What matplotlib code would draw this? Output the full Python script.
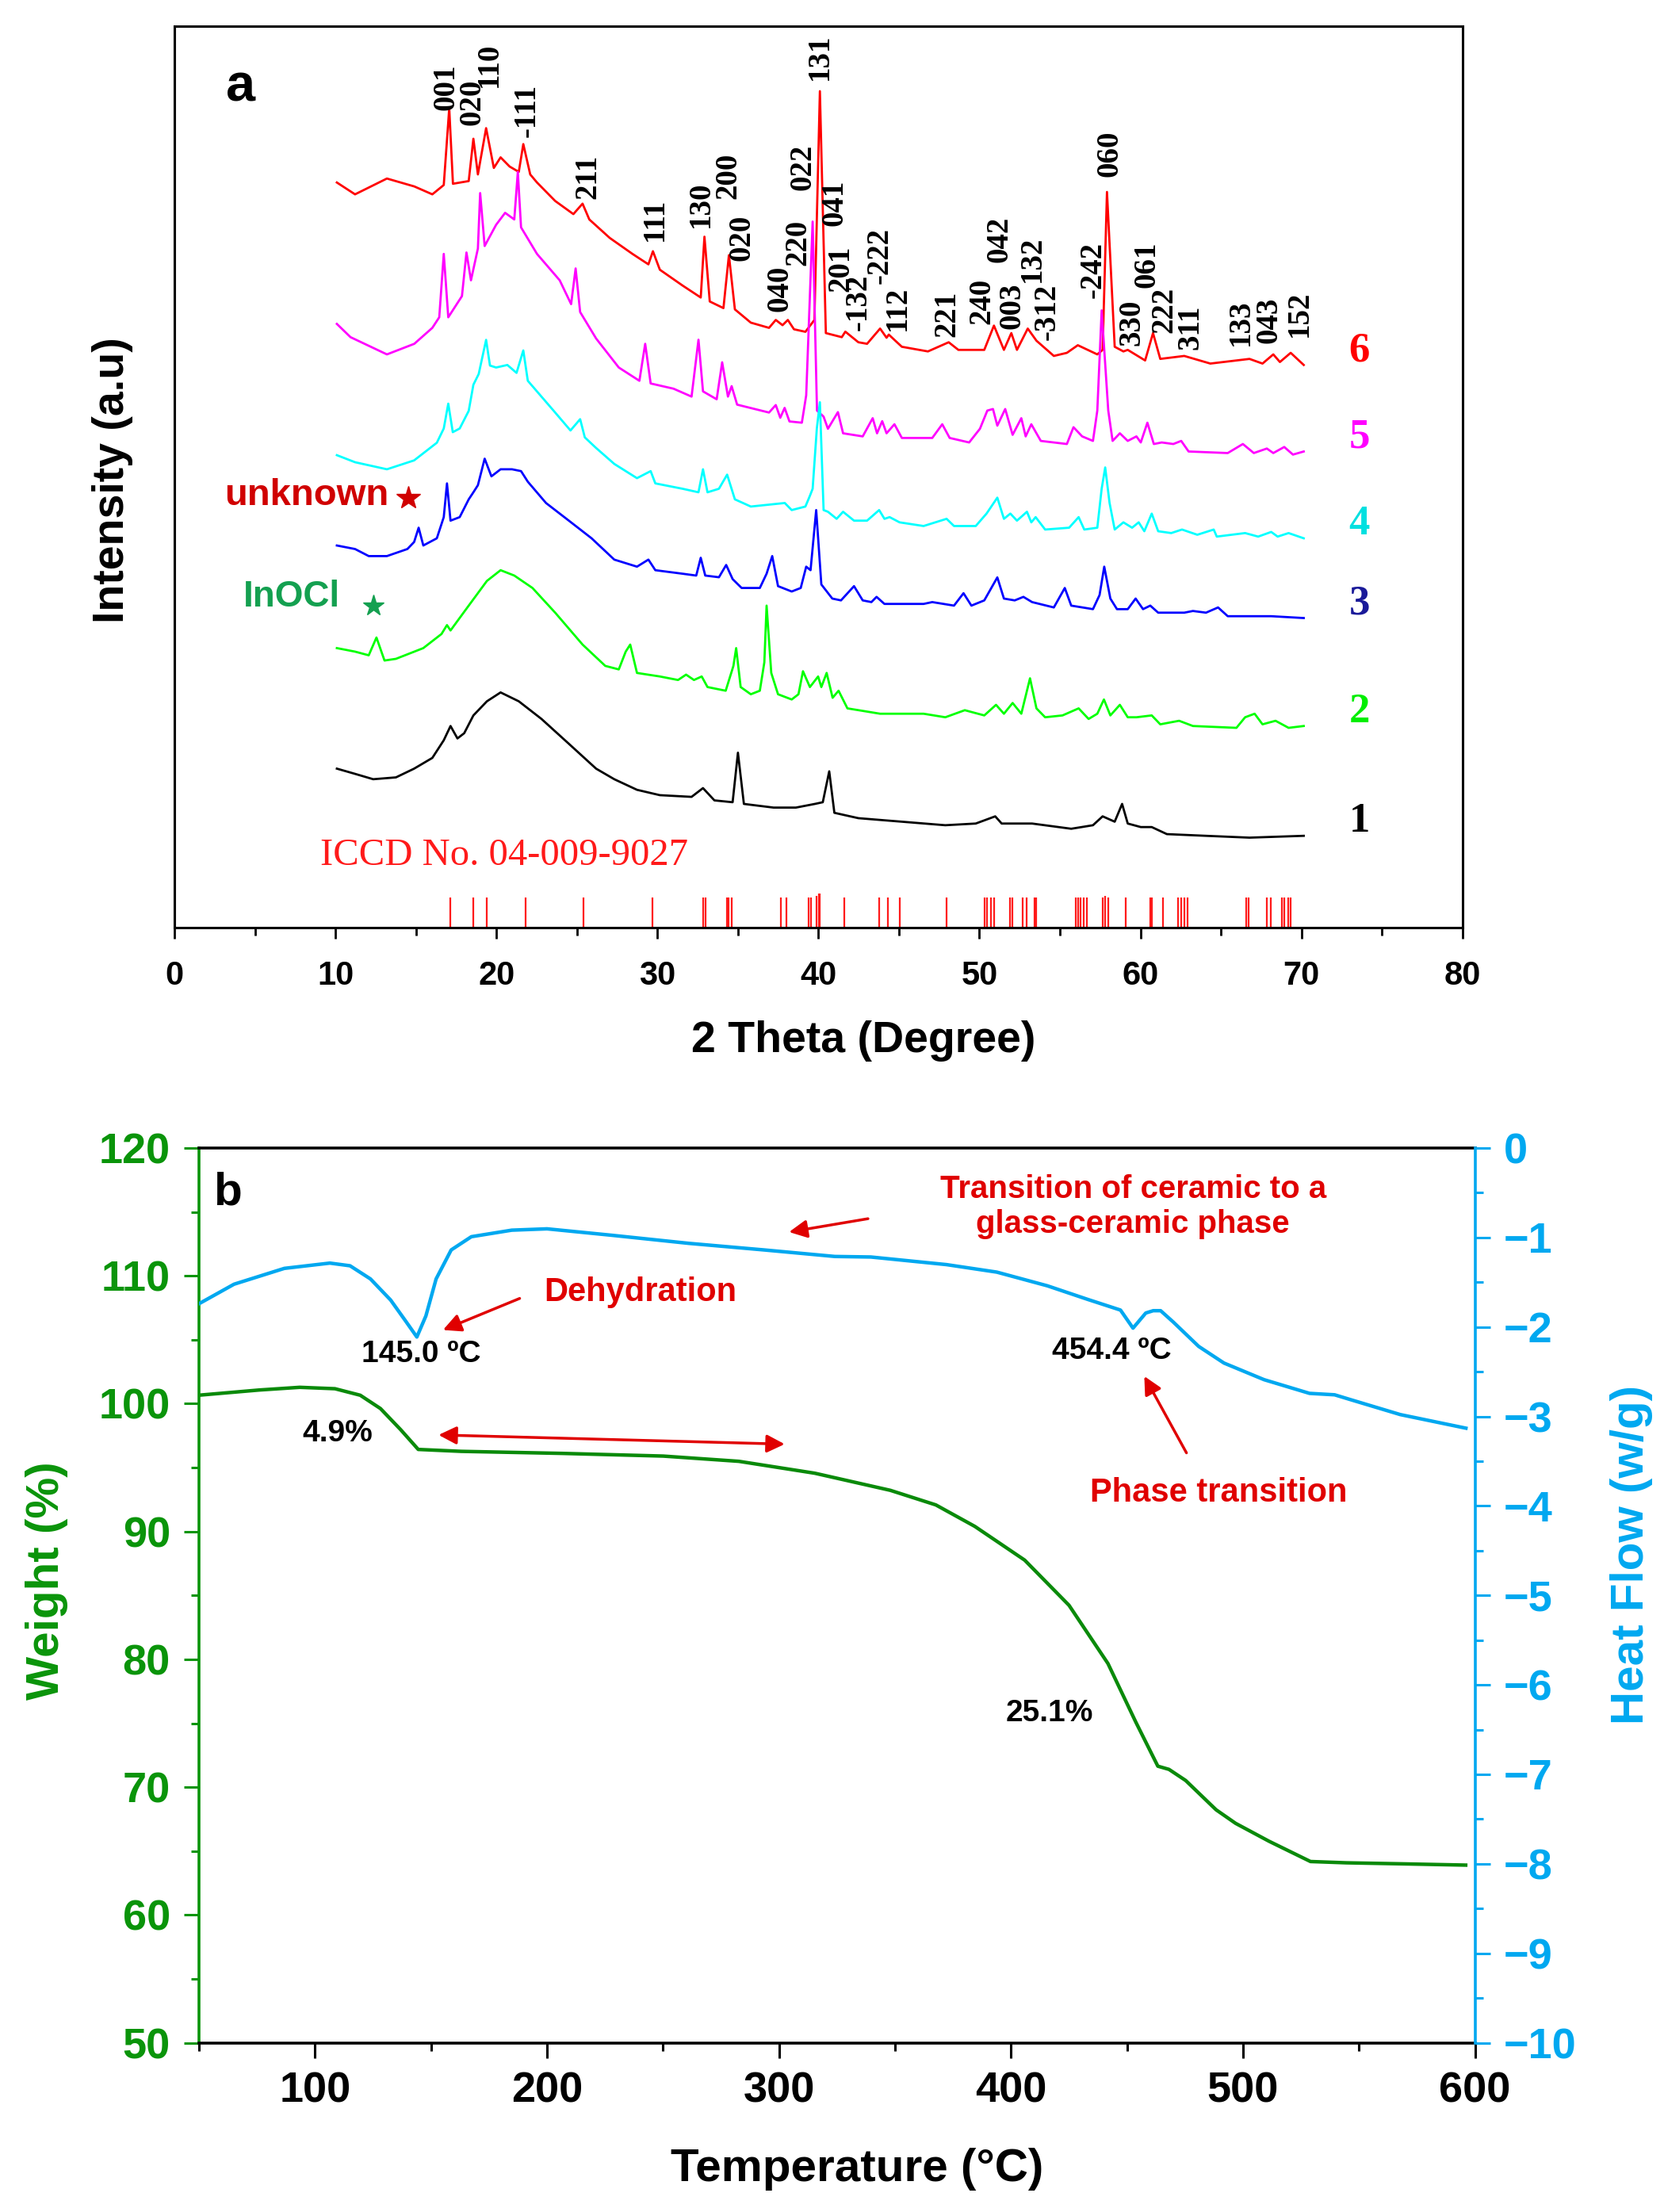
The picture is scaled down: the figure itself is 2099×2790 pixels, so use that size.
import matplotlib
matplotlib.use("Agg")
import matplotlib.pyplot as plt
import numpy as np
from matplotlib.ticker import MultipleLocator

plt.rcParams['font.family'] = ['Liberation Sans', 'DejaVu Sans']

# ---------------- (a) XRD patterns: (2theta, intensity a.u.)
xrd_6 = [(10.09, 527.7), (11.22, 519.3), (13.2, 530.5), (14.9, 524.9), (16.02, 519.3), (16.73, 525.9),
         (17.07, 580.2), (17.3, 526.8), (18.28, 528.7), (18.57, 558.7), (18.85, 533.4), (19.36, 566.2),
         (19.84, 538.0), (20.26, 545.5), (20.82, 539.0), (21.39, 535.2), (21.67, 554.9), (22.1, 533.4),
         (22.52, 527.7), (23.65, 514.6), (24.78, 505.3), (25.35, 512.7), (25.77, 501.5), (27.04, 488.4),
         (28.45, 477.1), (29.44, 469.7), (29.72, 479.0), (30.15, 465.9), (31.56, 454.7), (32.69, 446.2),
         (32.92, 489.3), (33.25, 443.4), (34.1, 438.7), (34.44, 476.2), (34.81, 437.8), (35.8, 428.4),
         (36.93, 424.7), (37.35, 430.3), (37.77, 426.6), (38.1, 430.3), (38.48, 423.7), (39.19, 421.9),
         (39.75, 430.3), (40.09, 592.4), (40.46, 421.0), (41.45, 418.1), (41.67, 422.0), (42.48, 414.5),
         (43.02, 413.4), (43.83, 424.2), (44.23, 417.7), (44.37, 419.9), (45.18, 411.3), (46.8, 408.0),
         (48.09, 414.5), (48.69, 409.1), (50.3, 409.1), (50.9, 426.3), (51.52, 409.1), (51.98, 421.0),
         (52.33, 409.1), (53.0, 424.2), (53.54, 415.6), (54.62, 404.8), (55.43, 407.0), (56.11, 412.4),
         (57.32, 405.9), (57.65, 409.1), (57.92, 521.0), (58.4, 411.3), (58.94, 408.0), (59.21, 409.1),
         (60.29, 401.6), (60.78, 421.0), (61.23, 402.7), (62.72, 404.8), (64.34, 399.4), (66.77, 402.7),
         (67.58, 399.4), (68.25, 405.9), (68.66, 400.5), (69.33, 407.0), (70.14, 398.4)]

xrd_5 = [(10.09, 427.5), (10.94, 418.1), (13.2, 405.9), (14.9, 413.4), (16.02, 424.7), (16.45, 432.2),
         (16.73, 477.1), (17.01, 432.2), (17.86, 447.2), (18.14, 478.1), (18.42, 458.4), (18.85, 480.9),
         (18.99, 520.2), (19.27, 482.7), (19.98, 497.7), (20.54, 506.2), (21.11, 501.5), (21.33, 535.2),
         (21.53, 495.9), (22.52, 477.1), (23.93, 458.4), (24.64, 441.5), (24.92, 466.8), (25.2, 435.9),
         (26.19, 417.2), (27.6, 396.6), (28.88, 387.2), (29.24, 413.4), (29.58, 385.3), (31.0, 381.6),
         (32.12, 376.0), (32.55, 416.3), (32.83, 379.7), (33.68, 374.1), (34.02, 400.3), (34.38, 376.0),
         (34.61, 383.4), (34.95, 370.3), (36.93, 364.7), (37.35, 370.0), (37.63, 361.0), (37.9, 368.0),
         (38.2, 358.4), (38.97, 357.5), (39.24, 376.9), (39.64, 500.0), (39.91, 366.1), (40.32, 361.8),
         (40.59, 353.2), (41.21, 365.0), (41.53, 350.0), (42.75, 347.8), (43.37, 360.7), (43.64, 350.0),
         (43.96, 358.6), (44.23, 350.0), (44.72, 356.4), (45.18, 346.7), (47.07, 346.7), (47.69, 356.4),
         (48.15, 346.7), (49.36, 343.5), (50.03, 353.2), (50.49, 366.1), (50.84, 367.2), (51.11, 355.4),
         (51.6, 367.2), (52.06, 348.9), (52.6, 360.7), (52.87, 347.8), (53.22, 356.4), (53.81, 344.6),
         (55.43, 342.4), (55.84, 354.3), (56.38, 347.8), (57.05, 344.6), (57.32, 366.1), (57.59, 437.1),
         (58.0, 366.1), (58.27, 344.6), (58.72, 350.0), (59.21, 344.6), (59.75, 347.8), (60.02, 343.5),
         (60.43, 357.5), (60.83, 342.4), (61.32, 343.5), (62.04, 342.4), (62.53, 344.6), (62.99, 337.1),
         (65.42, 336.0), (66.36, 342.4), (67.04, 336.0), (67.85, 339.2), (68.25, 336.0), (68.93, 340.3),
         (69.47, 334.9), (70.14, 337.1)]

xrd_4 = [(10.09, 334.5), (11.22, 329.5), (13.2, 324.5), (14.89, 330.8), (16.3, 343.3), (16.73, 353.4),
         (17.01, 371.0), (17.29, 350.8), (17.72, 353.4), (18.28, 365.9), (18.57, 384.4), (18.9, 392.0),
         (19.36, 416.2), (19.6, 398.0), (19.98, 396.6), (20.68, 398.4), (21.25, 392.8), (21.67, 408.7),
         (21.95, 387.2), (23.65, 364.7), (24.6, 352.0), (25.2, 360.0), (25.49, 347.1), (26.19, 339.6),
         (27.32, 328.3), (28.73, 318.2), (29.58, 323.2), (29.87, 314.5), (31.56, 310.7), (32.55, 308.2),
         (32.83, 324.5), (33.11, 308.2), (33.82, 310.7), (34.33, 320.7), (34.81, 303.2), (35.8, 298.1),
         (37.91, 300.6), (38.34, 295.6), (39.19, 298.1), (39.47, 305.7), (39.64, 310.7), (39.9, 353.4),
         (40.09, 372.0), (40.32, 295.6), (40.59, 294.4), (41.13, 289.4), (41.53, 294.4), (42.21, 288.1),
         (43.02, 288.1), (43.77, 295.6), (44.1, 289.4), (44.42, 290.6), (45.04, 286.9), (46.53, 284.3),
         (47.96, 289.4), (48.42, 284.3), (49.77, 284.3), (50.44, 293.1), (51.11, 304.4), (51.52, 289.4),
         (51.92, 293.1), (52.33, 288.1), (52.95, 294.4), (53.22, 286.9), (53.49, 290.6), (54.08, 281.8),
         (55.57, 283.1), (56.16, 290.6), (56.51, 281.8), (57.32, 283.1), (57.59, 310.7), (57.81, 325.8),
         (58.08, 300.7), (58.4, 281.8), (58.94, 286.9), (59.48, 283.1), (59.89, 286.9), (60.24, 280.6),
         (60.7, 293.1), (61.1, 280.6), (61.91, 279.3), (62.58, 281.8), (63.53, 278.1), (64.55, 281.8),
         (64.74, 276.8), (66.5, 279.3), (67.31, 276.8), (68.12, 280.1), (68.52, 276.8), (69.2, 279.3),
         (70.14, 275.6)]

xrd_3 = [(10.09, 270.5), (11.22, 268.0), (12.07, 263.0), (13.2, 263.0), (14.47, 268.0), (14.89, 273.0),
         (15.17, 283.1), (15.46, 270.5), (16.3, 275.6), (16.73, 290.6), (16.93, 314.5), (17.15, 288.1),
         (17.72, 290.6), (18.28, 303.2), (18.57, 308.2), (18.85, 313.2), (19.27, 332.0), (19.69, 319.5),
         (20.26, 324.5), (20.97, 324.5), (21.53, 323.2), (21.95, 315.7), (23.08, 300.6), (24.5, 288.1),
         (25.91, 275.6), (27.32, 260.5), (28.73, 255.5), (29.44, 260.5), (29.87, 253.0), (31.56, 250.5),
         (32.41, 249.2), (32.69, 261.8), (32.97, 249.2), (33.82, 248.0), (34.27, 256.7), (34.67, 246.7),
         (35.23, 240.4), (36.36, 240.4), (36.78, 250.5), (37.13, 263.0), (37.49, 241.7), (38.34, 237.9),
         (38.9, 240.4), (39.24, 255.5), (39.51, 253.0), (39.86, 295.6), (40.18, 242.9), (40.86, 232.9),
         (41.4, 231.6), (42.21, 241.7), (42.75, 231.6), (43.29, 230.4), (43.61, 234.1), (44.1, 229.1),
         (46.53, 229.1), (47.07, 230.4), (48.42, 227.9), (49.01, 236.7), (49.5, 227.9), (50.3, 231.6),
         (51.11, 247.9), (51.52, 232.9), (52.19, 231.6), (52.73, 234.1), (53.27, 230.4), (54.62, 226.6),
         (55.3, 240.4), (55.7, 227.9), (57.05, 225.4), (57.46, 235.4), (57.75, 255.5), (58.13, 232.9),
         (58.54, 225.4), (59.21, 225.4), (59.7, 232.9), (60.16, 225.4), (60.61, 227.9), (61.1, 222.9),
         (62.72, 222.9), (63.26, 224.1), (64.07, 222.9), (64.82, 226.6), (65.42, 220.4), (68.12, 220.4),
         (70.14, 219.1)]

xrd_2 = [(10.09, 197.8), (11.22, 195.3), (12.07, 192.7), (12.55, 205.3), (13.05, 189.0), (13.76, 190.2),
         (15.46, 197.8), (16.59, 207.8), (16.93, 214.1), (17.15, 210.3), (18.28, 227.9), (19.41, 245.4),
         (20.26, 253.0), (21.11, 249.2), (22.24, 240.4), (23.65, 222.9), (25.35, 200.3), (26.76, 185.2),
         (27.6, 182.7), (28.03, 195.3), (28.31, 200.3), (28.73, 180.2), (30.15, 177.7), (31.28, 175.2),
         (31.78, 179.0), (32.27, 175.2), (32.75, 177.7), (33.11, 170.2), (34.24, 167.6), (34.72, 185.2),
         (34.89, 197.8), (35.17, 170.2), (35.8, 165.1), (36.36, 167.6), (36.64, 187.7), (36.78, 227.9),
         (37.07, 180.2), (37.49, 165.1), (38.34, 161.4), (38.76, 165.1), (39.04, 181.4), (39.47, 170.2),
         (39.98, 177.7), (40.18, 170.2), (40.51, 180.2), (40.88, 162.6), (41.25, 167.6), (41.8, 155.1),
         (43.83, 151.3), (46.53, 151.3), (47.88, 148.8), (49.09, 153.8), (50.3, 150.1), (51.03, 157.6),
         (51.52, 151.3), (52.06, 158.9), (52.6, 151.3), (53.14, 176.4), (53.54, 155.1), (54.08, 148.8),
         (55.16, 150.1), (56.16, 155.1), (56.78, 147.6), (57.32, 151.3), (57.73, 161.4), (58.13, 150.1),
         (58.72, 157.6), (59.21, 148.8), (59.75, 148.8), (60.7, 150.1), (61.23, 143.8), (62.4, 146.3),
         (63.26, 142.6), (65.96, 141.3), (66.5, 148.8), (67.09, 151.3), (67.58, 143.8), (68.39, 146.3),
         (69.2, 141.3), (70.14, 142.6)]

xrd_1 = [(10.09, 112.4), (11.22, 108.7), (12.35, 104.9), (13.76, 106.2), (14.89, 112.4), (16.02, 120.0),
         (16.73, 132.5), (17.15, 142.6), (17.58, 133.8), (18.0, 137.5), (18.57, 150.1), (19.41, 160.1),
         (20.26, 166.4), (21.39, 160.1), (22.8, 147.6), (24.5, 130.0), (26.19, 112.4), (27.32, 104.9),
         (28.73, 97.4), (30.15, 93.6), (32.12, 92.4), (32.83, 98.6), (33.54, 89.9), (34.67, 88.6),
         (35.0, 123.7), (35.37, 87.4), (37.21, 84.8), (38.6, 84.8), (39.78, 87.4), (40.27, 88.6),
         (40.67, 110.5), (40.99, 81.1), (42.48, 77.3), (45.18, 74.8), (47.88, 72.3), (49.77, 73.5),
         (50.98, 78.6), (51.38, 73.5), (53.27, 73.5), (55.7, 69.8), (57.05, 72.3), (57.65, 78.6),
         (58.4, 74.8), (58.86, 87.4), (59.21, 73.5), (60.02, 71.0), (60.7, 71.0), (61.64, 66.0),
         (64.07, 64.8), (66.77, 63.5), (70.14, 64.8)]

sample_ids = ['6', '5', '4', '3', '2', '1']

# reference pattern ICCD 04-009-9027: (2theta, stick height)
ref_sticks = [(17.15, 21), (18.57, 21), (19.41, 21), (21.81, 21), (25.4, 21), (29.67, 21), (32.83, 21),
              (32.97, 21), (34.33, 21), (34.44, 21), (34.61, 21), (37.69, 21), (38.0, 21), (39.38, 21),
              (39.52, 21), (39.89, 22), (40.03, 24), (40.09, 24), (41.63, 21), (43.75, 21), (44.31, 21),
              (45.04, 21), (47.96, 21), (50.3, 21), (50.49, 21), (50.71, 21), (50.9, 21), (51.92, 21),
              (52.06, 21), (52.68, 21), (52.95, 21), (53.41, 21), (53.54, 21), (55.97, 21), (56.11, 21),
              (56.3, 21), (56.46, 21), (56.65, 21), (57.65, 21), (57.81, 22), (58.0, 21), (59.08, 21),
              (60.61, 21), (60.72, 21), (61.42, 21), (62.31, 21), (62.53, 21), (62.72, 21), (62.91, 21),
              (66.55, 21), (66.71, 21), (67.85, 21), (68.07, 21), (68.79, 21), (68.93, 21), (69.2, 21),
              (69.33, 21)]

# hkl index labels: (text, 2theta, base of label)
hkl_labels = [('001', 16.87, 579), ('020', 18.51, 568), ('110', 19.55, 595), ('-111', 21.9, 560),
              ('211', 25.68, 516), ('111', 29.86, 486), ('130', 32.69, 496), ('200', 34.39, 516),
              ('020', 35.23, 472), ('040', 37.63, 436), ('220', 38.76, 469), ('022', 39.05, 522),
              ('131', 40.09, 600), ('041', 40.99, 497), ('201', 41.4, 450), ('-132', 42.48, 423),
              ('-222', 43.83, 456), ('112', 44.91, 423), ('221', 48.01, 418), ('240', 50.17, 427),
              ('042', 51.25, 471), ('003', 52.06, 424), ('132', 53.27, 457), ('-312', 54.22, 416),
              ('-242', 57.05, 446), ('060', 58.08, 532), ('330', 59.48, 412), ('061', 60.43, 453),
              ('222', 61.5, 421), ('311', 63.12, 409), ('133', 66.23, 412), ('043', 67.98, 414),
              ('152', 69.87, 418)]

# ---------------- (b) TGA / DSC: (temperature C, value)
tga_weight = [(49.8, 100.66), (76.0, 101.07), (93.4, 101.28), (108.6, 101.17), (119.5, 100.66),
              (128.2, 99.62), (136.9, 97.97), (144.5, 96.42), (163.0, 96.27), (206.6, 96.11),
              (250.1, 95.9), (282.7, 95.49), (315.4, 94.56), (348.0, 93.22), (367.6, 92.08),
              (384.4, 90.4), (405.9, 87.76), (425.0, 84.23), (441.8, 79.67), (453.8, 75.09),
              (463.3, 71.64), (468.1, 71.39), (475.3, 70.52), (488.4, 68.23), (496.8, 67.17),
              (511.2, 65.77), (529.1, 64.18), (544.6, 64.08), (568.5, 64.0), (596.0, 63.9)]

dsc_heatflow = [(49.8, -1.743), (65.1, -1.522), (86.8, -1.345), (106.4, -1.286), (115.1, -1.316),
                (123.9, -1.463), (132.6, -1.699), (139.1, -1.935), (143.9, -2.112), (147.8, -1.876),
                (152.2, -1.463), (158.7, -1.139), (167.4, -0.991), (184.8, -0.918), (200.0, -0.903),
                (228.3, -0.976), (261.0, -1.065), (293.6, -1.139), (324.1, -1.212), (339.6, -1.218),
                (372.2, -1.303), (393.9, -1.387), (415.7, -1.54), (433.1, -1.692), (447.2, -1.811),
                (452.6, -2.013), (458.1, -1.844), (461.3, -1.818), (464.5, -1.818), (470.0, -1.946),
                (480.9, -2.217), (491.8, -2.403), (509.1, -2.589), (528.7, -2.742), (539.5, -2.758),
                (546.1, -2.81), (567.8, -2.979), (596.1, -3.131)]

SERIF = ['Liberation Serif', 'DejaVu Serif']
NARROW = ['Liberation Sans Narrow', 'Liberation Sans', 'DejaVu Sans']
RED = '#e00000'
GREEN_AX = '#0a940a'
BLUE_AX = '#00a8f0'

fig = plt.figure(figsize=(20.99, 27.9), dpi=100)

# ================= panel a =================
ax = fig.add_axes([0.1048, 0.5808, 0.7741, 0.4074])
xrd_colors = ['#ff0000', '#ff00ff', '#00ffff', '#0000ff', '#00ff00', '#000000']
id_colors = ['#ff0000', '#ff00ff', '#00e0e0', '#1a1a99', '#00ee00', '#000000']
for pat, col in zip([xrd_6, xrd_5, xrd_4, xrd_3, xrd_2, xrd_1], xrd_colors):
    arr = np.array(pat)
    ax.plot(arr[:, 0], arr[:, 1], color=col, lw=2.0)

# sample numbers at the right end of each trace
for pat, sid, col in zip([xrd_6, xrd_5, xrd_4, xrd_3, xrd_2, xrd_1], sample_ids, id_colors):
    ax.text(73.6, pat[-1][1] + 10, sid, color=col, fontsize=38, fontweight='bold',
            family=SERIF, ha='center', va='center')

ref = np.array(ref_sticks)
ax.vlines(ref[:, 0], 0, ref[:, 1], color='#ff1a1a', lw=1.6)
ax.text(20.5, 51, 'ICCD No. 04-009-9027', color='#ff1a1a', fontsize=35, family=SERIF,
        ha='center', va='center')

for txt, x, y in hkl_labels:
    ax.text(x, y, txt, rotation=90, ha='center', va='bottom', fontsize=28,
            fontweight='bold', family=SERIF)

ax.text(4.1, 595, 'a', fontsize=48, fontweight='bold', ha='center', va='center')
ax.text(8.2, 306, 'unknown', color='#d00000', fontsize=34, fontweight='bold',
        ha='center', va='center')
ax.plot([14.55], [304], marker='*', color='#d00000', markersize=22, ls='none')
ax.text(7.3, 234, 'InOCl', color='#14a050', fontsize=33, fontweight='bold',
        ha='center', va='center')
ax.plot([12.35], [228], marker='*', color='#14a050', markersize=20, ls='none')

ax.set_xlim(0, 80)
ax.set_ylim(0, 638.5)
ax.set_yticks([])
ax.xaxis.set_major_locator(MultipleLocator(10))
ax.xaxis.set_minor_locator(MultipleLocator(5))
ax.tick_params(axis='x', which='major', direction='out', length=10, width=2, labelsize=30, pad=20)
ax.tick_params(axis='x', which='minor', direction='out', length=7, width=2)
for lbl in ax.get_xticklabels():
    lbl.set_fontweight('bold')
for sp in ax.spines.values():
    sp.set_linewidth(2.2)

fig.text(0.0678, 0.783, 'Intensity (a.u)', rotation=90, fontsize=40, fontweight='bold',
         ha='center', va='center')
fig.text(0.5187, 0.5294, '2 Theta (Degree)', fontsize=40, fontweight='bold',
         ha='center', va='center')

# ================= panel b =================
axb = fig.add_axes([0.1196, 0.0765, 0.7668, 0.4045])
axr = axb.twinx()

tga = np.array(tga_weight)
axb.plot(tga[:, 0], tga[:, 1], color='#0a8a0a', lw=3.2)
dsc = np.array(dsc_heatflow)
axr.plot(dsc[:, 0], dsc[:, 1], color=BLUE_AX, lw=3.2)

axb.set_xlim(50, 600)
axb.set_ylim(50, 120)
axr.set_ylim(-10, 0)
axb.xaxis.set_major_locator(MultipleLocator(100))
axb.xaxis.set_minor_locator(MultipleLocator(50))
axb.yaxis.set_major_locator(MultipleLocator(10))
axb.yaxis.set_minor_locator(MultipleLocator(5))
axr.yaxis.set_major_locator(MultipleLocator(1))
axr.yaxis.set_minor_locator(MultipleLocator(0.5))

axb.tick_params(axis='x', which='major', direction='out', length=14, width=2.2, labelsize=39, pad=12)
axb.tick_params(axis='x', which='minor', direction='out', length=7, width=2.2)
axb.tick_params(axis='y', which='major', direction='out', length=14, width=2.2, labelsize=39,
                pad=12, colors=GREEN_AX)
axb.tick_params(axis='y', which='minor', direction='out', length=7, width=2.2, colors=GREEN_AX)
axr.tick_params(axis='y', which='major', direction='out', length=14, width=2.2, labelsize=39,
                pad=12, colors=BLUE_AX)
axr.tick_params(axis='y', which='minor', direction='out', length=7, width=2.2, colors=BLUE_AX)
for lbl in axb.get_xticklabels() + axb.get_yticklabels() + axr.get_yticklabels():
    lbl.set_fontweight('bold')

axb.spines['left'].set_color(GREEN_AX)
axb.spines['right'].set_visible(False)
axr.spines['right'].set_color(BLUE_AX)
for name in ['left', 'top', 'bottom']:
    axr.spines[name].set_visible(False)
for sp in list(axb.spines.values()) + list(axr.spines.values()):
    sp.set_linewidth(2.6)

arrow = dict(arrowstyle='-|>', color=RED, lw=2.5, mutation_scale=34)
axb.text(62.2, 116.5, 'b', fontsize=42, fontweight='bold', ha='center', va='center')
axb.text(145.6, 103.9, '145.0 ºC', fontsize=28, fontweight='bold', family=NARROW,
         ha='center', va='center')
axb.text(240.3, 108.7, 'Dehydration', color=RED, fontsize=30, fontweight='bold', family=NARROW,
         ha='center', va='center')
axb.annotate('', xy=(154.3, 105.7), xytext=(189.1, 108.3), arrowprops=arrow)
axb.text(452.6, 115.4, 'Transition of ceramic to a\nglass-ceramic phase', color=RED, fontsize=29,
         fontweight='bold', family=NARROW, ha='center', va='center', linespacing=1.2)
axb.annotate('', xy=(303.4, 113.4), xytext=(339.3, 114.5), arrowprops=arrow)
axb.text(443.5, 104.1, '454.4 ºC', fontsize=28, fontweight='bold', family=NARROW,
         ha='center', va='center')
axb.annotate('', xy=(457.0, 102.3), xytext=(476.1, 96.0), arrowprops=arrow)
axb.text(489.6, 93.0, 'Phase transition', color=RED, fontsize=30, fontweight='bold', family=NARROW,
         ha='center', va='center')
axb.text(109.7, 97.7, '4.9%', fontsize=28, fontweight='bold', family=NARROW,
         ha='center', va='center')
axb.annotate('', xy=(152.3, 97.56), xytext=(303.4, 96.83),
             arrowprops=dict(arrowstyle='<|-|>', color=RED, lw=2.5, mutation_scale=34))
axb.text(416.7, 75.8, '25.1%', fontsize=28, fontweight='bold', family=NARROW,
         ha='center', va='center')

fig.text(0.028, 0.2853, 'Weight (%)', rotation=90, color=GREEN_AX, fontsize=42,
         fontweight='bold', ha='center', va='center')
fig.text(0.9806, 0.297, 'Heat Flow (w/g)', rotation=90, color=BLUE_AX, fontsize=42,
         fontweight='bold', ha='center', va='center')
fig.text(0.5153, 0.0194, 'Temperature (°C)', fontsize=42, fontweight='bold',
         ha='center', va='center')

fig.savefig('out.png', dpi=100)
